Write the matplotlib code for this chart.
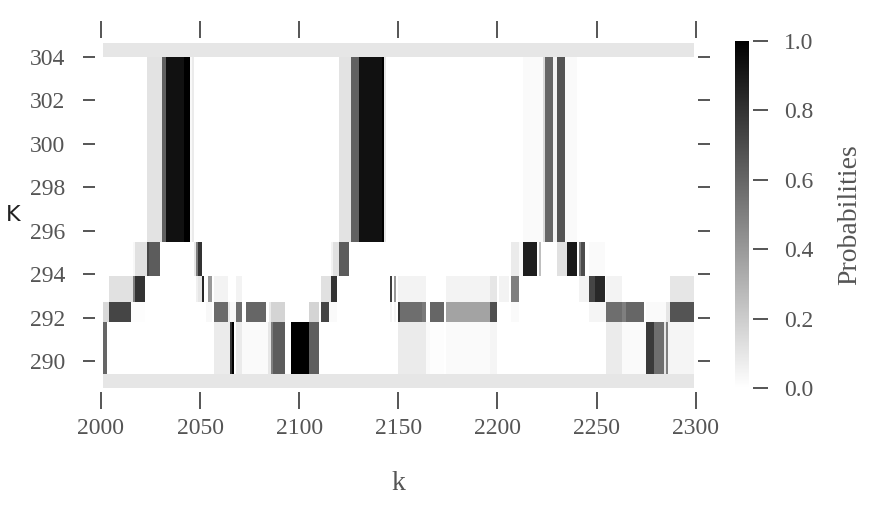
import numpy as np
import matplotlib
matplotlib.use("Agg")
import matplotlib.pyplot as plt

# temperature bin edges (K) and step range (k)
k_start, k_end = 2001, 2299
K_edges = [288.77, 289.40, 291.81, 292.73, 293.91, 295.48, 304.02, 304.645]

# probability runs per temperature bin: (k_from, k_to, probability)
edge_low = [(2001, 2299, 0.1)]
row_290 = [(2001, 2003, 0.6), (2057, 2065, 0.08), (2065, 2066, 0.8), (2066, 2067, 1.0),
           (2068, 2071, 0.08), (2071, 2084, 0.02), (2084, 2086, 0.1), (2086, 2087, 0.5),
           (2087, 2093, 0.64), (2096, 2105, 1.0), (2105, 2110, 0.63),
           (2150, 2164, 0.08), (2164, 2166, 0.02), (2166, 2173, 0.01), (2174, 2196, 0.02),
           (2196, 2200, 0.04), (2255, 2263, 0.08), (2263, 2275, 0.02), (2275, 2279, 0.77),
           (2279, 2284, 0.57), (2284, 2285, 0.1), (2285, 2286, 0.5), (2286, 2299, 0.04)]
row_292 = [(2001, 2004, 0.15), (2004, 2015, 0.73), (2015, 2022, 0.01),
           (2053, 2056, 0.03), (2057, 2064, 0.58), (2064, 2065, 0.08), (2065, 2068, 0.03),
           (2068, 2071, 0.57), (2073, 2083, 0.6), (2085, 2086, 0.08), (2086, 2093, 0.17),
           (2105, 2110, 0.17), (2111, 2115, 0.73), (2115, 2119, 0.02),
           (2146, 2147, 0.04), (2148, 2149, 0.04), (2150, 2151, 0.8), (2151, 2162, 0.57),
           (2162, 2164, 0.52), (2166, 2173, 0.6), (2174, 2196, 0.36), (2196, 2200, 0.69),
           (2207, 2211, 0.02), (2246, 2255, 0.04), (2255, 2263, 0.57), (2263, 2265, 0.5),
           (2265, 2274, 0.6), (2275, 2285, 0.02), (2285, 2287, 0.1), (2287, 2299, 0.67)]
row_293 = [(2004, 2016, 0.12), (2016, 2017, 0.5), (2017, 2022, 0.8),
           (2048, 2049, 0.06), (2049, 2051, 0.1), (2051, 2052, 0.85), (2054, 2056, 0.4),
           (2057, 2064, 0.05), (2068, 2071, 0.05),
           (2111, 2116, 0.12), (2116, 2119, 0.8),
           (2146, 2147, 0.75), (2148, 2149, 0.4), (2150, 2164, 0.05), (2174, 2196, 0.05),
           (2196, 2200, 0.1), (2201, 2206, 0.05), (2207, 2211, 0.5),
           (2241, 2246, 0.05), (2246, 2249, 0.73), (2249, 2254, 0.84), (2255, 2263, 0.05),
           (2287, 2299, 0.1)]
row_295 = [(2016, 2017, 0.03), (2017, 2023, 0.12), (2023, 2024, 0.72), (2024, 2030, 0.64),
           (2047, 2048, 0.1), (2048, 2049, 0.5), (2049, 2051, 0.8),
           (2116, 2117, 0.05), (2117, 2120, 0.12), (2120, 2125, 0.64),
           (2207, 2211, 0.08), (2211, 2213, 0.02), (2213, 2220, 0.88), (2221, 2222, 0.25),
           (2230, 2235, 0.12), (2235, 2240, 0.9), (2241, 2242, 0.5), (2242, 2244, 0.7),
           (2246, 2254, 0.02)]
row_300 = [(2023, 2031, 0.11), (2031, 2033, 0.62), (2033, 2042, 0.93), (2042, 2045, 1.0),
           (2045, 2046, 0.03), (2046, 2047, 0.08),
           (2120, 2126, 0.11), (2126, 2130, 0.62), (2130, 2142, 0.93), (2142, 2143, 1.0),
           (2143, 2144, 0.1),
           (2213, 2223, 0.02), (2223, 2224, 0.15), (2224, 2228, 0.6), (2228, 2230, 0.05),
           (2230, 2234, 0.67), (2234, 2240, 0.02)]
edge_high = [(2001, 2299, 0.1)]

rows = [edge_low, row_290, row_292, row_293, row_295, row_300, edge_high]

k_edges = np.arange(k_start, k_end + 1)
P = np.zeros((len(rows), len(k_edges) - 1))
for i, runs in enumerate(rows):
    for a, b, v in runs:
        P[i, a - k_start:b - k_start] = v

serif = "Liberation Serif"
grey = "#555555"

fig = plt.figure(figsize=(8.93, 5.25), dpi=100)
ax = fig.add_axes([101 / 893, 1 - 387.7 / 525, 594.7 / 893, 344.7 / 525])
mesh = ax.pcolormesh(k_edges, K_edges, P, cmap="gray_r", vmin=0, vmax=1)
ax.set_xlim(2000, 2300)
ax.set_ylim(K_edges[0], K_edges[-1])
ax.set_xticks(np.arange(2000, 2301, 50))
ax.set_yticks(np.arange(290, 305, 2))

for side in ["left", "right", "top", "bottom"]:
    ax.spines[side].set_color("none")
ax.spines["left"].set_position(("outward", 4.5))
ax.spines["right"].set_position(("outward", 1.5))
ax.spines["bottom"].set_position(("outward", 3))
ax.spines["top"].set_position(("outward", 3.5))

ax.tick_params(axis="x", direction="out", length=12, width=1.4, color=grey,
               top=True, labeltop=False, pad=7, labelcolor=grey, labelsize=17)
ax.tick_params(axis="y", direction="out", length=8.5, width=1.4, color=grey,
               right=True, labelright=False, pad=13, labelcolor=grey, labelsize=17)
for lab in ax.get_xticklabels() + ax.get_yticklabels():
    lab.set_family(serif)

ax.set_xlabel("k", family=serif, fontsize=20, color=grey, labelpad=23)
ax.set_ylabel("K", family="DejaVu Sans", fontsize=16, color="#222222",
              rotation=0, labelpad=12, va="center")

cax = fig.add_axes([735 / 893, 1 - 388 / 525, 14 / 893, 347 / 525])
cb = fig.colorbar(mesh, cax=cax)
cb.outline.set_visible(False)
cb.set_ticks([0, 0.2, 0.4, 0.6, 0.8, 1.0])
cax.yaxis.set_ticks_position("right")
cax.spines["right"].set_position(("outward", 3))
cax.tick_params(direction="out", length=11, width=1.4, color=grey, pad=11,
                labelcolor=grey, labelsize=17)
for lab in cax.get_yticklabels():
    lab.set_family(serif)
cb.set_label("Probabilities", family=serif, fontsize=20, color=grey, labelpad=17)

fig.savefig("out.png", dpi=100)
